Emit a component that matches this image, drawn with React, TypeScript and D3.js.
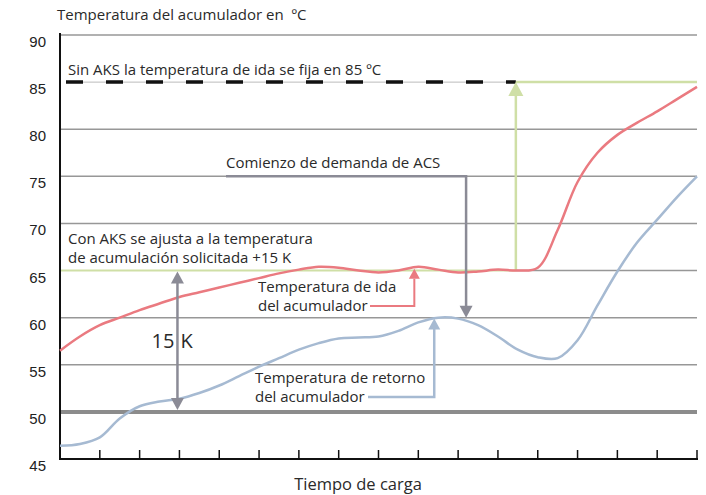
import React from "react";
import { scaleLinear, line, curveCatmullRom, range } from "d3";

// tiempo de carga (unidades de tick) y temperaturas
const idaTime = [0, 0.5, 1, 1.5, 2, 2.5, 3, 3.5, 4, 4.5, 5, 5.5, 6, 6.5, 7, 7.5, 8, 8.5, 9, 9.5, 10, 10.5, 11, 11.5, 12, 12.5, 13, 13.5, 14, 14.5, 15, 15.5, 16];
const idaTemp = [56.5, 58, 59.2, 60, 60.8, 61.5, 62.2, 62.7, 63.2, 63.7, 64.2, 64.7, 65.1, 65.4, 65.3, 65.0, 64.8, 65.0, 65.4, 65.1, 64.8, 64.9, 65.1, 65.0, 65.3, 69.3, 74.4, 77.5, 79.4, 80.7, 81.9, 83.2, 84.5];

const retTime = idaTime;
const retTemp = [46.4, 46.6, 47.3, 49.3, 50.6, 51.1, 51.4, 52.0, 52.8, 53.8, 54.8, 55.7, 56.6, 57.3, 57.8, 57.9, 58.0, 58.6, 59.5, 60.0, 59.9, 59.2, 58.0, 56.6, 55.8, 55.7, 57.6, 61.3, 64.9, 68.0, 70.4, 72.8, 75.0];

const yTicks = [45, 50, 55, 60, 65, 70, 75, 80, 85, 90];
const grayGrid = [55, 60, 70, 75, 80, 90];
const timeTicks = range(1, 17);

const ajusteTemp = 65; // temperatura con AKS
const fijaTemp = 85; // sin AKS
const minTemp = 50;
const demandaT = 10.2;
const saltoT = 11.45;

const W = 706;
const H = 495;

const RED = "#ea7a80";
const BLUE = "#a6bad2";
const GREEN = "#cfdfa6";
const GRID = "#979797";
const ARROW = "#8b8b96";

const txt = { fontFamily: "'Open Sans', sans-serif", fontSize: 15, fill: "#2a2a2a", whiteSpace: "pre" as const };

const TwoLines = ({ x, y, a, b }: { x: number; y: number; a: string; b: string }) => (
  <text x={x} y={y} style={txt}>
    <tspan x={x}>{a}</tspan>
    <tspan x={x} dy={19}>{b}</tspan>
  </text>
);

const App = () => {
  const x = scaleLinear().domain([0, 16]).range([60, 697]);
  const y = scaleLinear().domain([45, 90]).range([459, 35]);

  const curve = line<[number, number]>()
    .x((d) => x(d[0]))
    .y((d) => y(d[1]))
    .curve(curveCatmullRom);
  const ida = curve(idaTime.map((t, i) => [t, idaTemp[i]]));
  const ret = curve(retTime.map((t, i) => [t, retTemp[i]]));

  const head = (tx: number, ty: number, dir: 1 | -1, w: number, h: number) =>
    `M${tx},${ty} L${tx - w / 2},${ty + dir * h} L${tx + w / 2},${ty + dir * h} Z`;

  const x0 = x(0);
  const x1 = x(16);
  const k15 = x(2.95);
  const redConn = x(8.9);
  const blueConn = x(9.4);

  return (
    <svg width={W} height={H} style={{ position: "absolute", left: 0, top: 0, background: "#fff" }}>
      <text x={57} y={20} style={txt}>Temperatura del acumulador en  ºC</text>

      {/* rejilla */}
      {grayGrid.map((v) => (
        <line key={v} x1={x0} x2={x1} y1={y(v)} y2={y(v)} stroke={GRID} strokeWidth={1.5} />
      ))}
      <line x1={x0} x2={x(saltoT)} y1={y(ajusteTemp)} y2={y(ajusteTemp)} stroke={GREEN} strokeWidth={2} />
      <line x1={x(saltoT)} x2={x1} y1={y(ajusteTemp)} y2={y(ajusteTemp)} stroke={GRID} strokeWidth={1.5} />
      <line x1={x0} x2={x1} y1={y(minTemp)} y2={y(minTemp)} stroke="#8c8c8c" strokeWidth={4} />

      {/* 85 ºC sin AKS */}
      <line x1={x0 + 6} x2={x(saltoT)} y1={y(fijaTemp)} y2={y(fijaTemp)} stroke="#bbb" strokeWidth={1} />
      <line x1={x0 + 6} x2={x(saltoT)} y1={y(fijaTemp)} y2={y(fijaTemp)} stroke="#111" strokeWidth={3.5} strokeDasharray="17 23" />
      <line x1={x(saltoT)} x2={x1} y1={y(fijaTemp)} y2={y(fijaTemp)} stroke={GREEN} strokeWidth={2.5} />
      <line x1={x(saltoT)} x2={x(saltoT)} y1={y(ajusteTemp)} y2={y(fijaTemp) + 12} stroke={GREEN} strokeWidth={2.5} />
      <path d={head(x(saltoT), y(fijaTemp), 1, 15, 14)} fill={GREEN} />

      {/* ejes */}
      <line x1={x0} x2={x0} y1={33} y2={y(45) + 1} stroke="#111" strokeWidth={2} />
      <line x1={x0} x2={x1 + 1} y1={y(45)} y2={y(45)} stroke="#111" strokeWidth={2} />
      {timeTicks.map((t) => (
        <line key={t} x1={x(t)} x2={x(t)} y1={y(45)} y2={y(45) - 9} stroke="#111" strokeWidth={1.5} />
      ))}
      {yTicks.map((v) => (
        <text key={v} x={46} y={y(v) + 12} textAnchor="end" style={{ fontFamily: "'Liberation Sans', Arial, sans-serif", fontSize: 15, fill: "#222" }}>
          {v}
        </text>
      ))}
      <text x={358} y={490} textAnchor="middle" style={{ ...txt, fontSize: 16.5 }}>Tiempo de carga</text>

      {/* curvas */}
      <path d={ida ?? ""} fill="none" stroke={RED} strokeWidth={2.5} />
      <path d={ret ?? ""} fill="none" stroke={BLUE} strokeWidth={2.5} />

      {/* 15 K */}
      <line x1={k15} x2={k15} y1={y(ajusteTemp) + 10} y2={y(minTemp) - 10} stroke={ARROW} strokeWidth={2.5} />
      <path d={head(k15, y(ajusteTemp) + 1, 1, 13, 12)} fill={ARROW} />
      <path d={head(k15, y(minTemp) - 2, -1, 13, 12)} fill={ARROW} />
      <text x={k15 - 3} y={348} textAnchor="end" style={{ ...txt, fontSize: 20 }}>15</text>
      <text x={k15 + 3} y={348} style={{ ...txt, fontSize: 20 }}>K</text>

      {/* comienzo de demanda */}
      <text x={226} y={168} style={txt}>Comienzo de demanda de ACS</text>
      <polyline
        points={`226,${y(75)} ${x(demandaT)},${y(75)} ${x(demandaT)},${y(60) - 11}`}
        fill="none"
        stroke={ARROW}
        strokeWidth={2.5}
      />
      <path d={head(x(demandaT), y(60), -1, 13, 12)} fill={ARROW} />

      {/* textos AKS */}
      <text x={68} y={75} style={txt}>Sin AKS la temperatura de ida se fija en 85 ºC</text>
      <TwoLines x={68} y={244} a="Con AKS se ajusta a la temperatura" b="de acumulación solicitada +15 K" />

      {/* temperatura de ida */}
      <TwoLines x={258} y={292} a="Temperatura de ida" b="del acumulador" />
      <polyline
        points={`370,306 ${redConn},306 ${redConn},${y(65.2) + 10}`}
        fill="none"
        stroke={RED}
        strokeWidth={2}
      />
      <path d={head(redConn, y(65.2), 1, 11, 10)} fill={RED} />

      {/* temperatura de retorno */}
      <TwoLines x={255} y={383} a="Temperatura de retorno" b="del acumulador" />
      <polyline
        points={`368,397 ${blueConn},397 ${blueConn},${y(59.9) + 10}`}
        fill="none"
        stroke={BLUE}
        strokeWidth={2.5}
      />
      <path d={head(blueConn, y(59.9), 1, 12, 11)} fill={BLUE} />
    </svg>
  );
};

export default App;
